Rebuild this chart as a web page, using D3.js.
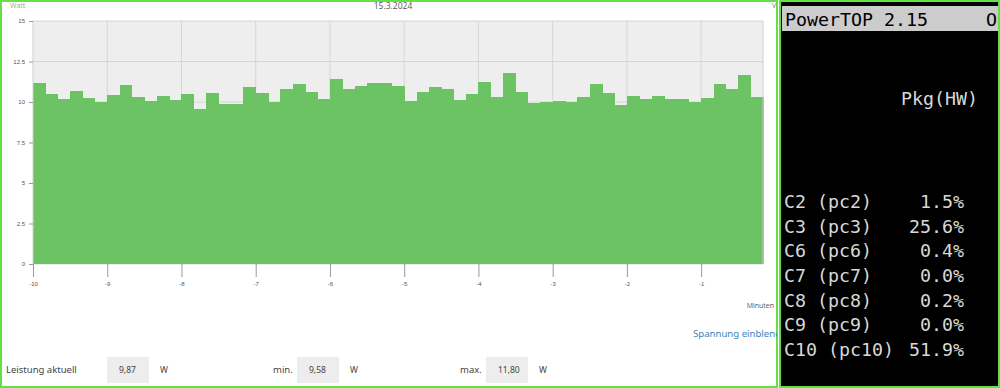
<!DOCTYPE html>
<html>
<head>
<meta charset="utf-8">
<script src="https://cdn.jsdelivr.net/npm/d3@7"></script>
<style>
  body { margin: 0; background: #fff; }
  svg { display: block; }
</style>
</head>
<body>
<div id="chart-area"></div>
<script>
// watt readings, one every 10 s over the last ~10 minutes
var watts = [
  11.19, 10.47, 10.19, 10.70, 10.27, 9.98, 10.41, 11.03, 10.31, 10.04,
  10.39, 10.12, 10.47, 9.58, 10.54, 9.90, 9.90, 10.91, 10.54, 9.98,
  10.82, 11.11, 10.62, 10.19, 11.40, 10.82, 10.96, 11.19, 11.19, 10.96,
  10.08, 10.62, 10.91, 10.82, 10.12, 10.47, 11.26, 10.33, 11.80, 10.62,
  9.92, 10.00, 10.04, 9.98, 10.33, 11.11, 10.54, 9.84, 10.39, 10.19,
  10.39, 10.19, 10.19, 9.98, 10.27, 11.11, 10.82, 11.69, 10.33
];
var yTicks = [0, 2.5, 5, 7.5, 10, 12.5, 15];
var xTicks = [-10, -9, -8, -7, -6, -5, -4, -3, -2, -1];

var statLabels = ["Leistung aktuell", "min.", "max."];
var statValues = ["9,87", "9,58", "11,80"];

var cStates = ["C2 (pc2)", "C3 (pc3)", "C6 (pc6)", "C7 (pc7)", "C8 (pc8)", "C9 (pc9)", "C10 (pc10)"];
var cPercent = ["1.5%", "25.6%", "0.4%", "0.0%", "0.2%", "0.0%", "51.9%"];

var svg = d3.select("#chart-area")
  .append("svg")
    .attr("width", 1000)
    .attr("height", 388);

// ---- left panel ----
var fontUI = "'Open Sans', 'Noto Sans', sans-serif";
svg.append("rect")
  .attr("x", 1).attr("y", 1).attr("width", 776).attr("height", 386)
  .attr("fill", "#fff").attr("stroke", "#63e046").attr("stroke-width", 2);

var plot = { left: 33, right: 763, top: 21, bottom: 264 };
var step = 1 / 6;
var x = d3.scaleLinear().domain([-10, -10 + watts.length * step]).range([plot.left, plot.right]);
var y = d3.scaleLinear().domain([0, 15]).range([plot.bottom, plot.top]);

var g = svg.append("g");

g.append("rect")
  .attr("x", plot.left).attr("y", plot.top)
  .attr("width", plot.right - plot.left).attr("height", plot.bottom - plot.top)
  .attr("fill", "#eeeeee");

// grid
g.selectAll(".hgrid").data(yTicks).enter().append("line")
  .attr("x1", plot.left).attr("x2", plot.right)
  .attr("y1", d => y(d)).attr("y2", d => y(d))
  .attr("stroke", "#d6d6d6").attr("stroke-width", 1);
g.selectAll(".vgrid").data(xTicks.slice(1)).enter().append("line")
  .attr("x1", d => x(d)).attr("x2", d => x(d))
  .attr("y1", plot.top).attr("y2", plot.bottom)
  .attr("stroke", "#d6d6d6").attr("stroke-width", 1);

// bars
g.selectAll(".bar").data(watts).enter().append("rect")
  .attr("x", (d, i) => x(-10 + i * step))
  .attr("y", d => y(d))
  .attr("width", (d, i) => x(-10 + (i + 1) * step) - x(-10 + i * step) + 0.5)
  .attr("height", d => plot.bottom - y(d))
  .attr("shape-rendering", "crispEdges")
  .attr("fill", "#6cc364");

// plot edges
g.append("line").attr("x1", plot.left).attr("x2", plot.left).attr("y1", plot.top).attr("y2", plot.bottom)
  .attr("stroke", "#cfcfcf");
g.append("line").attr("x1", plot.right).attr("x2", plot.right).attr("y1", plot.top).attr("y2", plot.bottom)
  .attr("stroke", "#cfcfcf");

// y axis
var yAxis = d3.axisLeft(y).tickValues(yTicks).tickSize(4).tickPadding(4)
  .tickFormat(d => String(d));
var yAxisGroup = svg.append("g").attr("transform", "translate(" + plot.left + ",0)").call(yAxis);
yAxisGroup.select(".domain").remove();
yAxisGroup.selectAll("line").attr("stroke", "#999");
yAxisGroup.selectAll("text").attr("font-size", "6px").attr("fill", "#555")
  .attr("font-family", "Arial, 'Liberation Sans', sans-serif");

// x axis
var xAxis = d3.axisBottom(x).tickValues(xTicks).tickSize(13).tickPadding(5)
  .tickFormat(d => String(d));
var xAxisGroup = svg.append("g").attr("transform", "translate(0," + plot.bottom + ")").call(xAxis);
xAxisGroup.select(".domain").remove();
xAxisGroup.selectAll("line").attr("stroke", "#999");
xAxisGroup.selectAll("text").attr("font-size", "6px").attr("fill", "#555")
  .attr("font-family", "Arial, 'Liberation Sans', sans-serif");

// titles
svg.append("text").attr("x", 10).attr("y", 8)
  .attr("font-size", "7px").attr("fill", "#8fb08a").attr("font-family", fontUI)
  .text("Watt");
svg.append("text").attr("x", 393).attr("y", 9).attr("text-anchor", "middle")
  .attr("font-size", "8.5px").attr("fill", "#555").attr("font-family", fontUI)
  .text("15.3.2024");
svg.append("text").attr("x", 772).attr("y", 8)
  .attr("font-size", "7px").attr("fill", "#7a7aa0").attr("font-family", fontUI)
  .text("V");
svg.append("text").attr("x", 774).attr("y", 308).attr("text-anchor", "end")
  .attr("font-size", "7px").attr("fill", "#555").attr("font-family", fontUI)
  .text("Minuten");

svg.append("clipPath").attr("id", "clipL").append("rect")
  .attr("x", 0).attr("y", 0).attr("width", 777).attr("height", 388);
svg.append("text").attr("x", 693).attr("y", 337).attr("clip-path", "url(#clipL)")
  .attr("font-size", "9.6px").attr("fill", "#3d82b5").attr("font-family", "'Noto Sans', 'Open Sans', sans-serif")
  .text("Spannung einblenden");

// stats row
var statLabelX = [6, 273, 460];
var boxX = [107, 297, 486];
var stats = svg.append("g").attr("font-family", "'Noto Sans', 'Open Sans', sans-serif").attr("font-size", "9.5px");
stats.selectAll(".lbl").data(statLabels).enter().append("text")
  .attr("x", (d, i) => statLabelX[i]).attr("y", 373)
  .attr("fill", "#444").text(d => d);
stats.selectAll(".box").data(statValues).enter().append("rect")
  .attr("x", (d, i) => boxX[i]).attr("y", 357).attr("width", 42).attr("height", 26)
  .attr("fill", "#ededed");
stats.selectAll(".val").data(statValues).enter().append("text")
  .attr("x", (d, i) => boxX[i] + 12).attr("y", 373)
  .attr("fill", "#444").attr("font-size", "8.5px").text(d => d);
stats.selectAll(".unit").data(statValues).enter().append("text")
  .attr("x", (d, i) => boxX[i] + 53).attr("y", 373)
  .attr("fill", "#444").attr("font-size", "8.5px").text("W");

// ---- right panel: powertop ----
var mono = "'DejaVu Sans Mono', 'Liberation Mono', monospace";
svg.append("clipPath").attr("id", "clipR").append("rect")
  .attr("x", 781).attr("y", 0).attr("width", 217).attr("height", 388);
svg.append("rect")
  .attr("x", 780).attr("y", 1).attr("width", 219).attr("height", 386)
  .attr("fill", "#000").attr("stroke", "#63e046").attr("stroke-width", 2);
var term = svg.append("g").attr("clip-path", "url(#clipR)")
  .attr("font-family", mono).attr("font-size", "18.3px");
term.append("rect").attr("x", 782).attr("y", 6).attr("width", 216).attr("height", 25)
  .attr("fill", "#cccccc");
term.append("text").attr("x", 785).attr("y", 26).attr("fill", "#000")
  .text("PowerTOP 2.15");
term.append("text").attr("x", 986).attr("y", 26).attr("fill", "#000")
  .text("O");
term.append("text").attr("x", 978).attr("y", 105).attr("text-anchor", "end")
  .attr("fill", "#d8d8d8").text("Pkg(HW)");

var rowY = d3.scalePoint().domain(cStates).range([208, 356]);
term.selectAll(".state").data(cStates).enter().append("text")
  .attr("x", 784).attr("y", d => rowY(d))
  .attr("fill", "#d8d8d8").text(d => d);
term.selectAll(".pct").data(cPercent).enter().append("text")
  .attr("x", 964).attr("y", (d, i) => rowY(cStates[i]))
  .attr("text-anchor", "end")
  .attr("fill", "#d8d8d8").text(d => d);
</script>
</body>
</html>
